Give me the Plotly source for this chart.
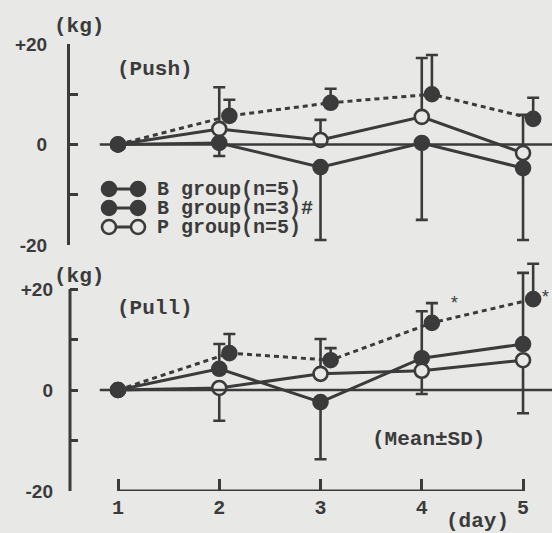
import plotly.graph_objects as go

# ---------------- data ----------------
days = [1, 2, 3, 4, 5]
days_b3 = [1, 2.1, 3.1, 4.1, 5.1]   # B group (n=3) plotted slightly right of each day

# Push
push_b5 = [0, 0.3, -4.5, 0.3, -4.7]
push_b5_up = [0, 0, 0, 0, 0]
push_b5_dn = [0, 2.6, 14.5, 15.3, 14.3]
push_b3 = [0, 5.7, 8.3, 10.0, 5.1]
push_b3_up = [0, 3.2, 2.8, 7.8, 4.2]
push_b3_dn = [0, 0, 0, 0, 0]
push_p = [0, 3.1, 0.9, 5.5, -1.7]
push_p_up = [0, 8.3, 4.0, 11.7, 7.6]
push_p_dn = [0, 0, 0, 0, 0]

# Pull
pull_b5 = [0, 4.2, -2.4, 6.3, 9.1]
pull_b5_up = [0, 4.9, 0, 9.3, 14.1]
pull_b5_dn = [0, 0, 11.3, 0, 0]
pull_b3 = [0, 7.3, 5.9, 13.3, 18.0]
pull_b3_up = [0, 3.8, 2.4, 3.9, 7.0]
pull_b3_dn = [0, 0, 0, 0, 0]
pull_p = [0, 0.4, 3.2, 3.8, 5.9]
pull_p_up = [0, 0, 6.9, 0, 0]
pull_p_dn = [0, 6.5, 0, 4.6, 10.5]

star_x = [4.32, 5.22]
star_y = [17.0, 18.2]

y_tickvals = [-20, -10, 0, 10, 20]
y_ticktext = ["-20", "", "0", "", "+20"]
legend_labels = ["B group(n=5)", "B group(n=3)#", "P group(n=5)"]

# ---------------- style ----------------
INK = "#3b3b3b"
BG = "#e8e8e6"
MONO = "Liberation Mono, Courier New, monospace"
SANS = "Liberation Sans, Arial, sans-serif"
W, H = 552, 533
LW = 3
MS = 14

fig = go.Figure()


def series(x, y, up, dn, filled, dashed, xa, ya):
    fig.add_trace(go.Scatter(
        x=x, y=y, xaxis=xa, yaxis=ya, mode="lines+markers",
        line=dict(color=INK, width=LW, dash="5px,4px" if dashed else "solid"),
        marker=dict(size=MS, color=INK if filled else BG,
                    line=dict(color=INK, width=2.6)),
        error_y=dict(type="data", symmetric=False, array=up, arrayminus=dn,
                     color=INK, thickness=2.6, width=6),
        showlegend=False, hoverinfo="skip", cliponaxis=False))


# top panel (Push): x2 / y
series(days, push_b5, push_b5_up, push_b5_dn, True, False, "x2", "y")
series(days, push_p, push_p_up, push_p_dn, False, False, "x2", "y")
series(days_b3, push_b3, push_b3_up, push_b3_dn, True, True, "x2", "y")
# bottom panel (Pull): x / y2
series(days, pull_b5, pull_b5_up, pull_b5_dn, True, False, "x", "y2")
series(days, pull_p, pull_p_up, pull_p_dn, False, False, "x", "y2")
series(days_b3, pull_b3, pull_b3_up, pull_b3_dn, True, True, "x", "y2")

# legend glyphs on a full-page overlay axis (pixel coordinates)
leg_y = [189, 208, 227]
for i, yy in enumerate(leg_y):
    fig.add_trace(go.Scatter(
        x=[109, 138], y=[yy, yy], xaxis="x3", yaxis="y3", mode="lines+markers",
        line=dict(color=INK, width=LW),
        marker=dict(size=MS, color=BG if i == 2 else INK, line=dict(color=INK, width=2.6)),
        showlegend=False, hoverinfo="skip", cliponaxis=False))

# ---------------- axes ----------------
x_dom = [70 / W, 1]
x_rng = [0.526, 5.286]

top_dom = [(H - 245) / H, (H - 44) / H]
bot_dom = [(H - 491) / H, (H - 254) / H]

yfont = dict(family=SANS, size=19, color=INK, weight="bold")

fig.update_layout(
    width=W, height=H, margin=dict(l=0, r=0, t=0, b=0, autoexpand=False),
    paper_bgcolor=BG, plot_bgcolor="rgba(0,0,0,0)",
    xaxis=dict(domain=x_dom, range=x_rng, anchor="y2", tickvals=days,
               ticktext=[str(d) for d in days], ticks="inside", ticklen=12,
               tickwidth=2.6, tickcolor=INK, showline=False, showgrid=False,
               zeroline=False, ticklabelstandoff=2, automargin=False,
               tickfont=dict(family=MONO, size=20, color=INK, weight="bold")),
    xaxis2=dict(domain=x_dom, range=x_rng, anchor="y", visible=False),
    yaxis=dict(domain=top_dom, range=[-20, 20], anchor="x2", tickvals=y_tickvals,
               ticktext=y_ticktext, ticks="inside", ticklen=8, tickwidth=2.6,
               tickcolor=INK, showline=True, linecolor=INK, linewidth=3,
               showgrid=False, zeroline=False, ticklabelstandoff=16, automargin=False,
               tickfont=yfont),
    yaxis2=dict(domain=bot_dom, range=[-20, 26.93], anchor="x", tickvals=y_tickvals,
                ticktext=y_ticktext, ticks="inside", ticklen=8, tickwidth=2.6,
                tickcolor=INK, showline=False, showgrid=False, zeroline=False,
                ticklabelstandoff=16, automargin=False, tickfont=yfont),
    xaxis3=dict(domain=[0, 1], range=[0, W], anchor="y3", visible=False),
    yaxis3=dict(domain=[0, 1], range=[H, 0], anchor="x3", visible=False),
)

shapes = [
    # bottom panel y axis line
    dict(type="line", xref="x domain", yref="y2", x0=0, x1=0, y0=-20, y1=20,
         line=dict(color=INK, width=3)),
    # bottom x axis line
    dict(type="line", xref="x", yref="y2", x0=days[0], x1=days[-1], y0=-20, y1=-20,
         line=dict(color=INK, width=3)),
    # zero reference lines
    dict(type="line", xref="x2", yref="y", x0=0.82, x1=5.3, y0=0, y1=0,
         line=dict(color=INK, width=2.6)),
    dict(type="line", xref="x", yref="y2", x0=0.82, x1=5.3, y0=0, y1=0,
         line=dict(color=INK, width=2.6)),
]
fig.update_layout(shapes=shapes)


def px(x):
    return x / W


def py(y):
    return 1 - y / H


tfont = dict(family=MONO, size=21, color=INK, weight="bold")

anns = [
    dict(text="(kg)", x=px(79), y=py(27)),
    dict(text="(kg)", x=px(79), y=py(276)),
    dict(text="(Push)", x=px(155), y=py(69)),
    dict(text="(Pull)", x=px(155), y=py(308)),
    dict(text="(Mean±SD)", x=px(428), y=py(439)),
    dict(text="(day)", x=px(477), y=py(521)),
]
for a in anns:
    fig.add_annotation(xref="paper", yref="paper", showarrow=False,
                       xanchor="center", yanchor="middle", font=tfont, **a)

for lbl, yy in zip(legend_labels, leg_y):
    fig.add_annotation(xref="paper", yref="paper", x=px(155), y=py(yy),
                       text=lbl, showarrow=False, xanchor="left", yanchor="middle",
                       font=dict(family=MONO, size=20, color=INK, weight="bold"))

for sx, sy in zip(star_x, star_y):
    fig.add_annotation(xref="x", yref="y2", x=sx, y=sy, text="*", showarrow=False,
                       xanchor="center", yanchor="middle",
                       font=dict(family=MONO, size=18, color=INK))

fig.write_html("out.html", config={"displayModeBar": False},
               post_script="document.body.style.margin='0';document.body.style.overflow='hidden';")
